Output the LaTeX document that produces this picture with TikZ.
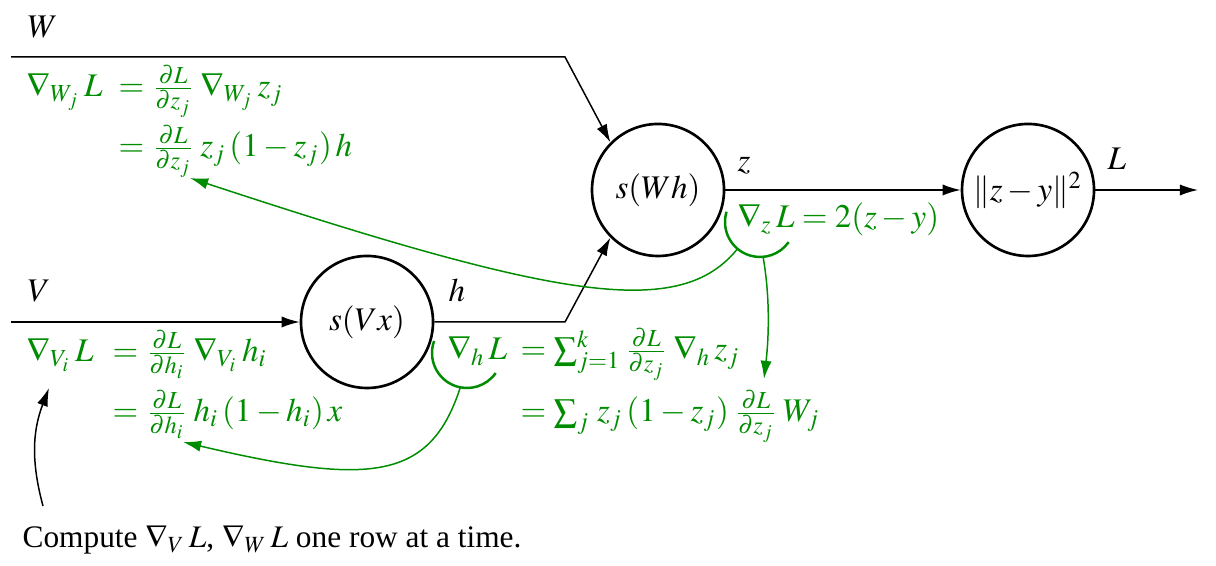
\documentclass[tikz,border=0pt]{standalone}
\usepackage{mathptmx}
\usepackage{fontspec}
\setmainfont{Liberation Serif}
\usepackage{tikz}
\usetikzlibrary{arrows.meta,calc}
\definecolor{ink}{HTML}{000000}
\definecolor{gradgreen}{HTML}{008C00}
\tikzset{
  >={Latex[length=5.5pt,width=3.4pt]},
  unit/.style={circle,draw=ink,line width=0.8pt,minimum size=40pt,inner sep=0pt},
  flow/.style={->,draw=ink,line width=0.45pt},
  lbl/.style={inner sep=0pt,anchor=base west,text=ink},
  grad/.style={inner sep=0pt,anchor=base west,text=gradgreen},
  gradarc/.style={draw=gradgreen,line width=0.75pt},
  backarr/.style={->,draw=gradgreen,line width=0.45pt},
  notearr/.style={->,draw=ink,line width=0.45pt}
}

\begin{document}
\begin{tikzpicture}[x=0.303pt,y=0.303pt]
  \useasboundingbox (0,0) rectangle (1216,566);

  % forward units
  \node[unit] (vx) at (367,244) {$s(Vx)$};
  \node[unit] (wh) at (658,376) {$s(Wh)$};
  \node[unit] (loss) at (1028,376) {$\|z-y\|^2$};

  \coordinate (wstart) at (11,509);
  \coordinate (wbend) at (565,509);
  \coordinate (vstart) at (11,244);
  \coordinate (hbend) at (565,244);
  \coordinate (lend) at (1198,376);

  \draw[flow] (wstart) -- (wbend) -- (wh.north west);
  \draw[flow] (vstart) -- (vx.west);
  \draw[flow] (vx.east) -- (hbend) -- (wh.south west);
  \draw[flow] (wh.east) -- (loss.west);
  \draw[flow] (loss.east) -- (lend);

  \node[lbl] (wlab) at (27,528) {$W$};
  \node[lbl] (vlab) at (27,264) {$V$};
  \node[lbl] (hlab) at (448,264) {$h$};
  \node[lbl] (zlab) at (737,394) {$z$};
  \node[lbl] (llab) at (1107,396) {$L$};

  % gradients
  \node[grad] (gwl) at (26,469) {$\nabla_{W_j}\, L$};
  \node[grad] (gw1) at (118,469) {$= \frac{\partial L}{\partial z_j}\mkern3mu \nabla_{W_j}\, z_j$};
  \node[grad] (gw2) at (118,409) {$= \frac{\partial L}{\partial z_j}\mkern3mu z_j\,(1-z_j)\, h$};
  \node[grad] (gvl) at (26,204) {$\nabla_{V_i}\, L$};
  \node[grad] (gv1) at (112,204) {$= \frac{\partial L}{\partial h_i}\mkern3mu \nabla_{V_i}\, h_i$};
  \node[grad] (gv2) at (112,144) {$= \frac{\partial L}{\partial h_i}\mkern3mu h_i\,(1-h_i)\, x$};
  \node[grad] (ghl) at (447,206) {$\nabla_h\, L$};
  \node[grad] (gh1) at (520,206) {$= \sum_{j=1}^k \frac{\partial L}{\partial z_j}\mkern3mu \nabla_h\, z_j$};
  \node[grad] (gh2) at (520,144) {$= \sum_j\, z_j\,(1-z_j)\mkern3mu \frac{\partial L}{\partial z_j}\mkern3mu W_j$};
  \node[grad] (gz) at (737,338) {$\nabla_z\, L = 2(z-y)$};

  \coordinate (zc) at (760,344);
  \coordinate (hc) at (467,213);
  \draw[gradarc] ($(zc)+(163:35)$) arc[start angle=163,end angle=325,radius=35];
  \draw[gradarc] ($(hc)+(160:35)$) arc[start angle=160,end angle=325,radius=35];
  \coordinate (zout1) at ($(zc)+(230:35)$);
  \coordinate (zout2) at ($(zc)+(275:35)$);
  \coordinate (hout) at ($(hc)+(259:35)$);
  \coordinate (wtip) at (190,388);
  \coordinate (vtip) at (183,124);
  \coordinate (htip) at (764,187);

  \draw[backarr] (zout1) .. controls (680,246) and (560,266) .. (wtip);
  \draw[backarr] (zout2) .. controls (770,270) and (769,230) .. (htip);
  \draw[backarr] (hout) .. controls (430,85) and (370,80) .. (vtip);

  % note
  \coordinate (nstart) at (43,60);
  \coordinate (ntip) at (49,178);
  \draw[notearr] (nstart) to[bend left=18] (ntip);
  \node[lbl,font=\fontsize{9.5}{11}\selectfont] (note) at (22,18) {Compute $\nabla_V\, L$, $\nabla_W\, L$ one row at a time.};
\end{tikzpicture}
\end{document}
